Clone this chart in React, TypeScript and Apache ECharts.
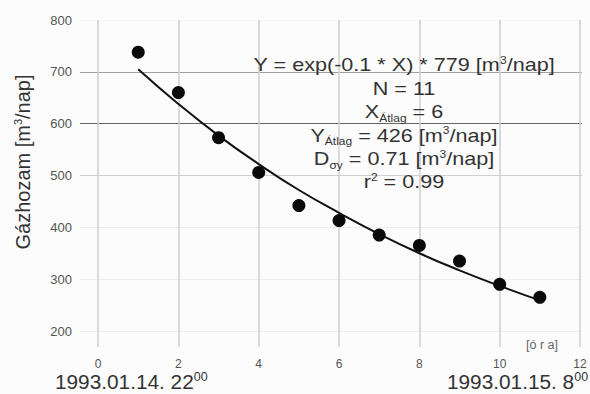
import React, { useEffect, useRef } from "react";
import * as echarts from "echarts";

const hours = [1, 2, 3, 4, 5, 6, 7, 8, 9, 10, 11];
const measured = [738, 660, 573, 506, 442, 413, 385, 365, 335, 290, 265];
const fitted = [705, 638, 577, 522, 472, 428, 387, 350, 317, 287, 259];
const yTicks = [200, 300, 400, 500, 600, 700, 800];
const xTicks = [0, 2, 4, 6, 8, 10, 12];
const annotationLines = [
  "Y = exp(-0.1 * X) * 779 [m{sup|3}/nap]",
  "N = 11",
  "X{sub|Átlag} = 6",
  "Y{sub|Átlag} = 426 [m{sup|3}/nap]",
  "D{sub|σy} = 0.71 [m{sup|3}/nap]",
  "r{sup|2} = 0.99",
];
const yTitle = "Gázhozam [m{sup|3}/nap]";
const xUnit = "[ó r a]";
const startLabel = "1993.01.14. 22{sup|00}";
const endLabel = "1993.01.15. 8{sup|00}";

const FONT = "'Liberation Sans', Arial, sans-serif";

export default function App() {
  const ref = useRef<HTMLDivElement>(null);
  useEffect(() => {
    if (!ref.current) return;
    const chart = echarts.init(ref.current, undefined, { renderer: "svg" });
    const hColors = ["#eeeeee", "#eeeeee", "#ececec", "#d0d0d0", "#666666", "#a0a0a0", "#f4f4f4"];
    const richSmall = {
      sup: { fontSize: 10, fontFamily: FONT, color: "#333", padding: [0, 0, 9, 0] },
      sub: { fontSize: 10, fontFamily: FONT, color: "#333", padding: [13, 0, 0, 0] },
    };
    const annoGraphics = annotationLines.map((t, i) => ({
      type: "text",
      x: 404,
      y: 65 + i * 23.4,
      scaleX: 1.2,
      style: {
        text: t,
        fontSize: 18,
        fontFamily: FONT,
        fill: "#333",
        align: "center",
        verticalAlign: "middle",
        rich: richSmall,
      },
      z: 10,
    }));
    const dateRich = { sup: { fontSize: 12, fontFamily: FONT, color: "#333", padding: [0, 0, 9, 0] } };
    chart.setOption({
      animation: false,
      backgroundColor: "#fcfcfc",
      grid: [
        { left: 98, top: 20, width: 482, height: 327 },
        { left: 80, top: 20, width: 502, height: 311 },
      ],
      xAxis: [
        {
          gridIndex: 0,
          type: "value",
          min: xTicks[0],
          max: xTicks[xTicks.length - 1],
          interval: 2,
          axisLine: { show: false },
          axisTick: { show: false },
          axisLabel: { color: "#555", fontSize: 12, fontFamily: FONT, margin: 11 },
          splitLine: { show: true, lineStyle: { color: "#cfcfcf", width: 1.5 } },
        },
        {
          gridIndex: 1,
          type: "value",
          min: -0.45,
          max: 12.05,
          show: false,
          splitLine: { show: false },
        },
      ],
      yAxis: [
        {
          gridIndex: 0,
          type: "value",
          min: 0,
          max: 1,
          show: false,
          splitLine: { show: false },
        },
        {
          gridIndex: 1,
          type: "value",
          min: yTicks[0],
          max: yTicks[yTicks.length - 1],
          interval: 100,
          axisLine: { show: false },
          axisTick: { show: false },
          axisLabel: { color: "#555", fontSize: 13, fontFamily: FONT, margin: 8 },
          splitLine: { show: true, lineStyle: { color: hColors, width: 1.2 } },
        },
      ],
      series: [
        {
          type: "line",
          xAxisIndex: 1,
          yAxisIndex: 1,
          data: hours.map((h, i) => [h, fitted[i]]),
          smooth: true,
          showSymbol: false,
          symbol: "none",
          lineStyle: { color: "#111", width: 2 },
          z: 3,
        },
        {
          type: "scatter",
          xAxisIndex: 1,
          yAxisIndex: 1,
          data: hours.map((h, i) => [h, measured[i]]),
          symbolSize: 13,
          itemStyle: { color: "#0a0a0a", opacity: 1 },
          z: 4,
        },
      ],
      graphic: [
        ...annoGraphics,
        {
          type: "text",
          x: 23,
          y: 162,
          rotation: Math.PI / 2,
          style: {
            text: yTitle,
            fontSize: 20,
            fontFamily: FONT,
            fill: "#333",
            align: "center",
            verticalAlign: "middle",
            rich: { sup: { fontSize: 11, fontFamily: FONT, color: "#333", padding: [0, 0, 10, 0] } },
          },
        },
        {
          type: "text",
          x: 526,
          y: 345,
          style: {
            text: xUnit,
            fontSize: 12.5,
            fontFamily: FONT,
            fill: "#666",
            align: "left",
            verticalAlign: "middle",
          },
        },
        {
          type: "text",
          x: 55,
          y: 382,
          scaleX: 1.04,
          style: {
            text: startLabel,
            fontSize: 20,
            fontFamily: FONT,
            fill: "#333",
            align: "left",
            verticalAlign: "middle",
            rich: dateRich,
          },
        },
        {
          type: "text",
          x: 447,
          y: 382,
          scaleX: 1.04,
          style: {
            text: endLabel,
            fontSize: 20,
            fontFamily: FONT,
            fill: "#333",
            align: "left",
            verticalAlign: "middle",
            rich: dateRich,
          },
        },
      ],
    });
    return () => chart.dispose();
  }, []);
  return (
    <div
      ref={ref}
      style={{ position: "fixed", left: 0, top: 0, width: 590, height: 394 }}
    />
  );
}
